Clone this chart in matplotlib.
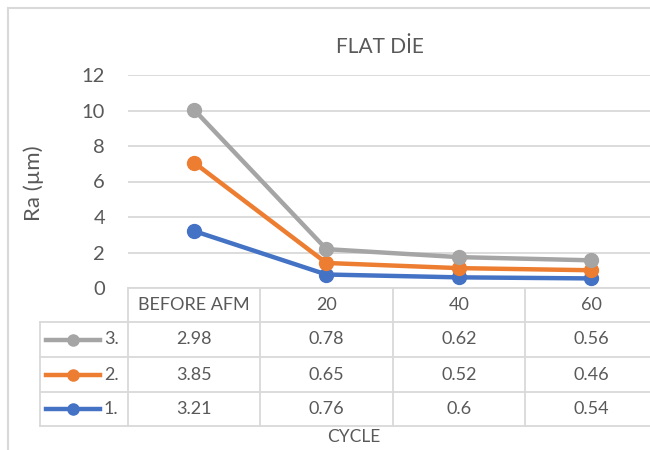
import matplotlib
matplotlib.use("Agg")
import matplotlib.pyplot as plt
from matplotlib.lines import Line2D
import numpy as np

plt.rcParams['font.family'] = ['Lato', 'DejaVu Sans']

title = "FLAT DİE"
categories = ["BEFORE AFM", "20", "40", "60"]
series_names = ["1.", "2.", "3."]
s1 = [3.21, 0.76, 0.6, 0.54]
s2 = [3.85, 0.65, 0.52, 0.46]
s3 = [2.98, 0.78, 0.62, 0.56]
colors = ["#4472C4", "#ED7D31", "#A5A5A5"]
yticks = [0, 2, 4, 6, 8, 10, 12]

TXT = "#595959"
GRID = "#D9D9D9"
W, H = 650, 450

fig = plt.figure(figsize=(6.5, 4.5), dpi=100)

def fx(px):
    return px / W

def fy(py):
    return 1 - py / H

# plot area in pixel coords
L, R, T, B = 128, 657, 75, 288
ax = fig.add_axes([fx(L), fy(B), fx(R - L), fy(T) - fy(B)])
ax.set_xlim(-0.5, len(categories) - 0.5)
ax.set_ylim(0, 12)
ax.set_yticks(yticks)
ax.set_yticklabels([str(t) for t in yticks], fontsize=14.5, color=TXT)
ax.tick_params(axis='y', length=0, pad=16.5)
ax.set_xticks([])
for sp in ax.spines.values():
    sp.set_visible(False)
ax.grid(axis='y', color=GRID, linewidth=1.3)
ax.set_axisbelow(True)

stacked = np.cumsum(np.array([s1, s2, s3]), axis=0)
x = np.arange(len(categories))
for i in range(2, -1, -1):
    ax.plot(x, stacked[i], color=colors[i], linewidth=3.2, marker='o',
            markersize=10, clip_on=False, zorder=3 + i)

# title and labels
fig.text(fx(380), fy(47), title, ha='center', va='center', fontsize=15, color=TXT)
fig.text(fx(34), fy(183), "Ra (µm)", ha='center', va='center', rotation=90,
         fontsize=16, color=TXT)
fig.text(fx(354), fy(437), "CYCLE", ha='center', va='center', fontsize=12.5, color=TXT)

# data table
col_edges = [128, 260, 393, 525, 657]
row_edges = [288, 322, 357, 392, 426]
lw = 1.3

def hline(y, x0, x1):
    fig.add_artist(Line2D([fx(x0), fx(x1)], [fy(y), fy(y)], color=GRID, linewidth=lw))

def vline(xp, y0, y1):
    fig.add_artist(Line2D([fx(xp), fx(xp)], [fy(y0), fy(y1)], color=GRID, linewidth=lw))

hline(row_edges[0], 128, 657)
for yy in row_edges[1:]:
    hline(yy, 40, 657)
for xx in col_edges:
    vline(xx, row_edges[0], row_edges[-1])
vline(40, row_edges[1], row_edges[-1])

for j, c in enumerate(categories):
    cx = (col_edges[j] + col_edges[j + 1]) / 2
    cy = (row_edges[0] + row_edges[1]) / 2
    fig.text(fx(cx), fy(cy), c, ha='center', va='center', fontsize=13, color=TXT)

rows = [(series_names[2], s3, colors[2]),
        (series_names[1], s2, colors[1]),
        (series_names[0], s1, colors[0])]
for r, (name, vals, col) in enumerate(rows):
    cy = (row_edges[r + 1] + row_edges[r + 2]) / 2
    fig.add_artist(Line2D([fx(46), fx(100)], [fy(cy), fy(cy)], color=col,
                          linewidth=3.2))
    fig.add_artist(Line2D([fx(73)], [fy(cy)], color=col, marker='o',
                          markersize=8, linestyle='none'))
    fig.text(fx(104), fy(cy), name, ha='left', va='center', fontsize=13, color=TXT)
    for j, v in enumerate(vals):
        cx = (col_edges[j] + col_edges[j + 1]) / 2
        fig.text(fx(cx), fy(cy), f"{v:g}", ha='center', va='center',
                 fontsize=13, color=TXT)

# chart border
fig.add_artist(Line2D([fx(8), fx(8)], [fy(8), fy(452)], color=GRID, linewidth=1.5))
fig.add_artist(Line2D([fx(8), fx(652)], [fy(8), fy(8)], color=GRID, linewidth=1.5))

fig.savefig("out.png", dpi=100)
